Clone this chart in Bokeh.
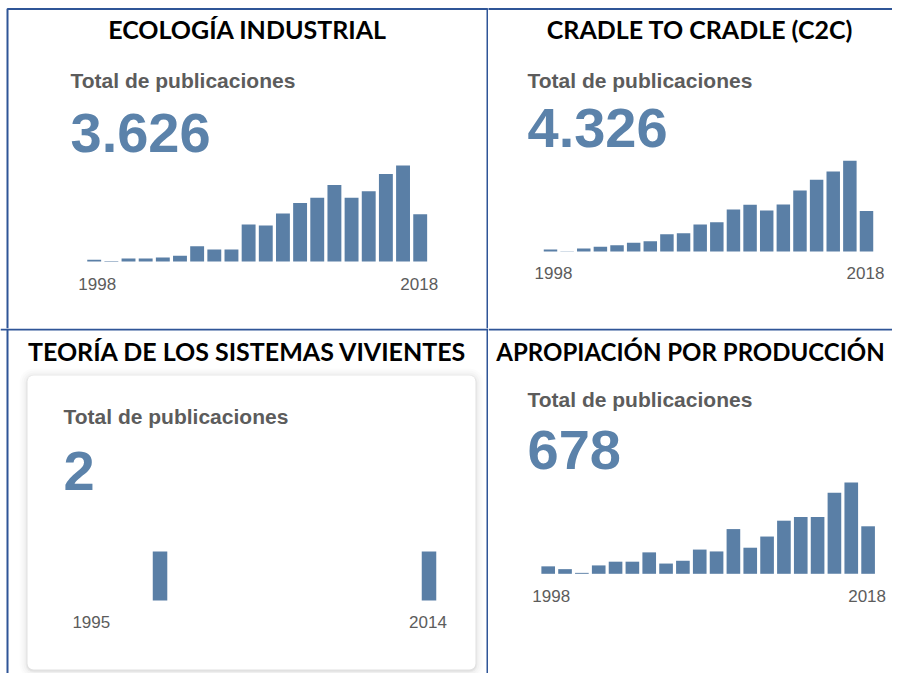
from bokeh.plotting import figure
from bokeh.layouts import column, row
from bokeh.models import Range1d, Label, Span, BoxAnnotation
from bokeh.embed import file_html
from bokeh.resources import INLINE

# ---------------- data ----------------
titles = ["ECOLOGÍA INDUSTRIAL", "CRADLE TO CRADLE (C2C)",
          "TEORÍA DE LOS SISTEMAS VIVIENTES", "APROPIACIÓN POR PRODUCCIÓN"]
subtitle = "Total de publicaciones"
totals = ["3.626", "4.326", "2", "678"]
first_years = ["1998", "1998", "1995", "1998"]
last_years = ["2018", "2018", "2014", "2018"]

ecologia = [8, 2, 15, 15, 20, 28, 75, 59, 59, 181, 176, 234, 286, 311, 374, 312, 343, 428, 469, 231]
c2c = [13, 2, 20, 31, 42, 58, 69, 116, 122, 180, 196, 280, 312, 274, 314, 407, 479, 534, 606, 271]
sistemas = [0, 0, 0, 0, 1, 0, 0, 0, 0, 0, 0, 0, 0, 0, 0, 0, 0, 0, 0, 1]
apropiacion = [8, 5, 1, 9, 13, 13, 23, 11, 14, 26, 24, 48, 28, 40, 57, 61, 61, 87, 98, 51]
series = [ecologia, c2c, sistemas, apropiacion]

# ---------------- style / layout ----------------
BAR = "#5a7fa6"
NUM = "#5b82aa"
GREY = "#5c5c5c"
BORDER = "#2f5597"
TITLE_FONT = "Lato"
FONT = "Liberation Sans"

# per panel: (W, H, first bar centre px, last bar centre px, baseline px from bottom,
#             height px of tallest bar, title centre x, title y, title size,
#             text left x, subtitle y, number y, years y)
geo = [
    (488, 328, 93.7, 419.7, 67.0, 96.0, 247, 300.0, 25, 70, 248.5, 195.7, 45.0),
    (404, 328, 62.0, 378.0, 77.0, 90.7, 211.5, 300.0, 25, 39, 248.5, 200.4, 56.0),
    (488, 345, 87.8, 428.5, 73.0, 49.0, 247, 322.5, 25, 63, 257.1, 202.4, 51.3),
    (404, 345, 59.7, 379.6, 99.7, 91.3, 202, 321.7, 24, 39, 273.8, 224.0, 78.0),
]


def sbox(level="underlay", **kw):
    return BoxAnnotation(left_units="screen", right_units="screen",
                         top_units="screen", bottom_units="screen", level=level, **kw)


def panel(k):
    W, H, fx, lx, base, hmax, tx, ty, tfs, lft, sy, ny, yy = geo[k]
    vals = series[k]
    n = len(vals)
    idx = list(range(n))
    pitch = (lx - fx) / (n - 1)
    xs = -fx / pitch
    vmax = max(vals)
    ys = hmax / vmax
    y0 = -base / ys
    p = figure(width=W, height=H, x_range=Range1d(xs, xs + W / pitch),
               y_range=Range1d(y0, y0 + H / ys), x_axis_type=None, y_axis_type=None,
               toolbar_location=None, output_backend="svg", min_border=0,
               outline_line_color=None, background_fill_color="white",
               border_fill_color="white")

    if k == 2:
        # card with soft shadow
        L, R, T, B = 27, 475, 298, 4
        for d, a in [(8, 0.010), (6, 0.015), (4, 0.02), (2, 0.03), (1, 0.04)]:
            p.add_layout(sbox(left=L - d, right=R + d, top=T + d - 1, bottom=B - d - 1,
                              fill_color="black", fill_alpha=a, line_color=None,
                              border_radius=6 + d))
        p.add_layout(sbox(left=L, right=R, top=T, bottom=B, fill_color="white",
                          fill_alpha=1, line_color=None, border_radius=6))

    p.vbar(x=idx, top=vals, width=0.81, bottom=0, fill_color=BAR, line_color=None)

    p.add_layout(Label(x=tx, y=ty, x_units="screen", y_units="screen", text=titles[k],
                       text_font=TITLE_FONT, text_font_style="bold", text_font_size=f"{tfs}px",
                       text_color="black", text_align="center", text_baseline="alphabetic"))
    p.add_layout(Label(x=lft, y=sy, x_units="screen", y_units="screen", text=subtitle,
                       text_font=FONT, text_font_style="bold", text_font_size="21px",
                       text_color=GREY, text_align="left", text_baseline="alphabetic"))
    p.add_layout(Label(x=lft, y=ny, x_units="screen", y_units="screen", text=totals[k],
                       text_font=FONT, text_font_style="bold", text_font_size="56px",
                       text_color=NUM, text_align="left", text_baseline="alphabetic"))
    p.add_layout(Label(x=0, y=yy, x_units="data", y_units="screen", text=first_years[k],
                       x_offset=3, text_font=FONT, text_font_size="17px", text_color=GREY,
                       text_align="center", text_baseline="alphabetic"))
    p.add_layout(Label(x=n - 1, y=yy, x_units="data", y_units="screen", text=last_years[k],
                       x_offset=-1, text_font=FONT, text_font_size="17px", text_color=GREY,
                       text_align="center", text_baseline="alphabetic"))

    # table borders
    if k == 0:
        p.add_layout(sbox(level="annotation", left=7, right=W - 1, top=H - 8.5, bottom=-6,
                          fill_alpha=0, line_color=BORDER, line_alpha=1, line_width=2))
    elif k == 1:
        p.add_layout(sbox(level="annotation", left=-6, right=W + 6, top=H - 8.5, bottom=-6,
                          fill_alpha=0, line_color=BORDER, line_alpha=1, line_width=2))
    else:
        if k == 2:
            p.add_layout(Span(location=7, location_units="screen", dimension="height",
                              line_color=BORDER, line_width=2))
            p.add_layout(Span(location=W - 1, location_units="screen", dimension="height",
                              line_color=BORDER, line_width=2))
        p.add_layout(Span(location=H - 1, location_units="screen", dimension="width",
                          line_color=BORDER, line_width=2))
    return p


plots = [panel(k) for k in range(4)]
layout = column(row(plots[0], plots[1]), row(plots[2], plots[3]))

open("out.html", "w").write(file_html(layout, INLINE))
